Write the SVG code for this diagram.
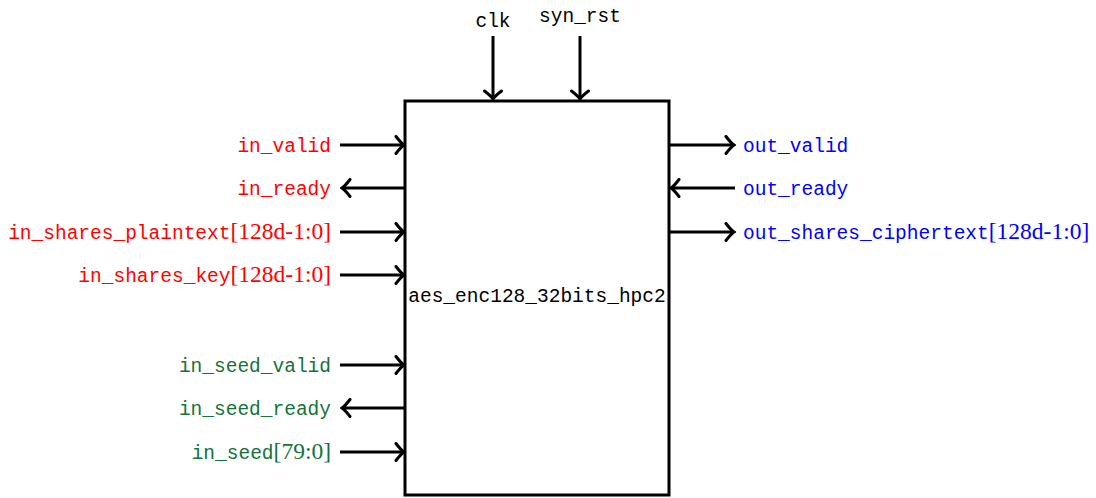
<svg xmlns="http://www.w3.org/2000/svg" width="1096" height="498" viewBox="0 0 1096 498">
  <style>
    .tt { font-family: "Liberation Mono", "DejaVu Sans Mono", monospace; font-size: 19.5px; }
    .rm { font-family: "Liberation Serif", "DejaVu Serif", serif; font-size: 23.5px; }
    .red { fill: #ff0000; }
    .blue { fill: #0000ff; }
    .green { fill: #13733a; }
    .blk { fill: #000000; }
    .wire { stroke: #000; stroke-width: 3; fill: none; }
  </style>
  <defs>
    <marker id="tip" viewBox="-12 -10 14 20" markerWidth="14" markerHeight="20" refX="0" refY="0" orient="auto" markerUnits="userSpaceOnUse">
      <path d="M-8,-8.5 Q-3,-2 0,0 Q-3,2 -8,8.5" fill="none" stroke="#000" stroke-width="3" stroke-linecap="round"/>
    </marker>
  </defs>

  <!-- core block -->
  <g id="core">
    <rect x="405" y="101" width="264" height="394" fill="#fff" stroke="#000" stroke-width="3"/>
    <text class="tt blk" x="537" y="302" text-anchor="middle">aes_enc128_32bits_hpc2</text>
  </g>

  <!-- port wires -->
  <g id="connectors">
    <line class="wire" x1="493" y1="36" x2="493" y2="99" marker-end="url(#tip)"/>
    <line class="wire" x1="580" y1="36" x2="580" y2="99" marker-end="url(#tip)"/>

    <line class="wire" x1="340" y1="145" x2="404" y2="145" marker-end="url(#tip)"/>
    <line class="wire" x1="405" y1="188" x2="342" y2="188" marker-end="url(#tip)"/>
    <line class="wire" x1="340" y1="232" x2="404" y2="232" marker-end="url(#tip)"/>
    <line class="wire" x1="340" y1="275" x2="404" y2="275" marker-end="url(#tip)"/>
    <line class="wire" x1="340" y1="365" x2="404" y2="365" marker-end="url(#tip)"/>
    <line class="wire" x1="405" y1="408" x2="342" y2="408" marker-end="url(#tip)"/>
    <line class="wire" x1="340" y1="452" x2="404" y2="452" marker-end="url(#tip)"/>

    <line class="wire" x1="669" y1="145" x2="734" y2="145" marker-end="url(#tip)"/>
    <line class="wire" x1="735" y1="188" x2="671" y2="188" marker-end="url(#tip)"/>
    <line class="wire" x1="669" y1="232" x2="734" y2="232" marker-end="url(#tip)"/>
  </g>

  <!-- control ports -->
  <g id="clk"><text class="tt blk" x="493" y="27" text-anchor="middle">clk</text></g>
  <g id="syn_rst"><text class="tt blk" x="580" y="22" text-anchor="middle">syn_rst</text></g>

  <!-- data input ports -->
  <g id="in_valid"><text class="tt red" x="331" y="152" text-anchor="end">in_valid</text></g>
  <g id="in_ready"><text class="tt red" x="331" y="195" text-anchor="end">in_ready</text></g>
  <g id="in_shares_plaintext"><text class="red" x="331" y="239" text-anchor="end"><tspan class="tt">in_shares_plaintext</tspan><tspan class="rm">[128d-1:0]</tspan></text></g>
  <g id="in_shares_key"><text class="red" x="331" y="282" text-anchor="end"><tspan class="tt">in_shares_key</tspan><tspan class="rm">[128d-1:0]</tspan></text></g>

  <!-- randomness ports -->
  <g id="in_seed_valid"><text class="tt green" x="331" y="372" text-anchor="end">in_seed_valid</text></g>
  <g id="in_seed_ready"><text class="tt green" x="331" y="415" text-anchor="end">in_seed_ready</text></g>
  <g id="in_seed"><text class="green" x="331" y="459" text-anchor="end"><tspan class="tt">in_seed</tspan><tspan class="rm">[79:0]</tspan></text></g>

  <!-- output ports -->
  <g id="out_valid"><text class="tt blue" x="743" y="152">out_valid</text></g>
  <g id="out_ready"><text class="tt blue" x="743" y="195">out_ready</text></g>
  <g id="out_shares_ciphertext"><text class="blue" x="743" y="239"><tspan class="tt">out_shares_ciphertext</tspan><tspan class="rm">[128d-1:0]</tspan></text></g>
</svg>
